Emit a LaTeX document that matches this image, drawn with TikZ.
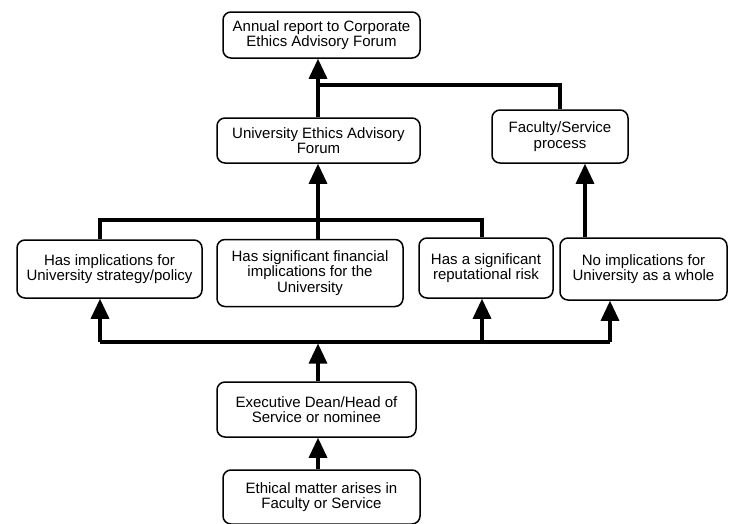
\documentclass[tikz,border=0pt]{standalone}
\usepackage{fontspec}
\setmainfont{Liberation Sans}
\usetikzlibrary{arrows.meta}

\tikzset{
  box/.style={draw, line width=1.5pt, rounded corners=8pt, align=center, inner sep=2pt,
    font=\fontsize{15}{15.5}\selectfont},
  link/.style={line width=3.2pt},
  arr/.style={link, -{Triangle[length=20pt,width=18pt]}}
}

\begin{document}
\begin{tikzpicture}[x=1pt,y=-1pt]
    \useasboundingbox (0,0) rectangle (732,523);
    \clip (0,0) rectangle (732,523);
		\node[box, minimum width=197pt, minimum height=46pt] (annual) at (321.5,35) {Annual report to Corporate\\Ethics Advisory Forum};
		\node[box, minimum width=203pt, minimum height=45pt] (uefa) at (318.5,140.5) {University Ethics Advisory\\Forum};
		\node[box, minimum width=136pt, minimum height=53pt] (fsp) at (560,136.5) {Faculty/Service\\process};
		\node[box, minimum width=185pt, minimum height=58pt] (strategy) at (109.5,269) {Has implications for\\University strategy/policy};
		\node[box, minimum width=186pt, minimum height=67pt] (finance) at (310,273) {Has significant financial\\implications for the\\University};
		\node[box, minimum width=134pt, minimum height=60pt] (repute) at (486,268) {Has a significant\\reputational risk};
		\node[box, minimum width=167pt, minimum height=62pt] (noimpl) at (643.5,269) {No implications for\\University as a whole};
		\node[box, minimum width=199pt, minimum height=55pt] (dean) at (316.5,409.5) {Executive Dean/Head of\\Service or nominee};
		\node[box, minimum width=197pt, minimum height=54pt] (matter) at (321.5,497) {Ethical matter arises in\\Faculty or Service};
		% junctions
		\coordinate (top) at (318,85);
		\coordinate (midL) at (100,220);
		\coordinate (midC) at (318,220);
		\coordinate (midR) at (482,220);
		\coordinate (side) at (585,200);
		\coordinate (lowL) at (100,342);
		\coordinate (lowC) at (318,342);
		\coordinate (lowR) at (482,342);
		\coordinate (lowE) at (610,342);
		% upper part
		\draw[arr] (uefa.north -| top) -- (annual.south -| top);
		\draw[link] (top) -| (fsp.north);
		\draw[link] (strategy.north -| midL) -- (midL) -- (midR) -- (repute.north -| midR);
		\draw[link] (finance.north -| midC) -- (midC);
		\draw[arr] (midC) -- (uefa.south -| midC);
		\draw[arr] (noimpl.north -| side) -- (fsp.south -| side);
		% lower part
		\draw[link] (lowL) -- (lowE);
		\draw[arr] (lowL) -- (strategy.south -| lowL);
		\draw[arr] (lowR) -- (repute.south -| lowR);
		\draw[arr] (lowE) -- (noimpl.south -| lowE);
		\draw[arr] (dean.north -| lowC) -- ([yshift=-1.5pt]lowC);
		\draw[arr] (matter.north -| lowC) -- (dean.south -| lowC);
    \end{tikzpicture}
\end{document}
